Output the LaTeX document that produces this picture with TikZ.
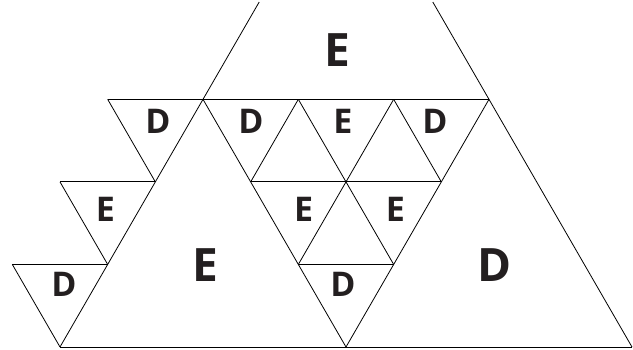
\documentclass[tikz,border=0pt]{standalone}
\usepackage{fontspec}
\setmainfont{Open Sans}
\definecolor{letterInk}{RGB}{35,31,32}
\tikzstyle{edge} = [line width=0.8pt]
\tikzstyle{smallLbl} = [inner sep=0pt, text=letterInk, font=\fontsize{34}{34}\selectfont\bfseries]
\tikzstyle{bigLbl} = [inner sep=0pt, text=letterInk, font=\fontsize{46}{46}\selectfont\bfseries]
\begin{document}
\begin{tikzpicture}[x=1pt,y=-1pt]
	\useasboundingbox (0,0) rectangle (633,349);
	% grid points
	\coordinate (p10) at (60,347);
	\coordinate (p40) at (346,347);
	\coordinate (p70) at (632,347);
	\coordinate (p01) at (12.33,264.44);
	\coordinate (p11) at (107.67,264.44);
	\coordinate (p31) at (298.33,264.44);
	\coordinate (p41) at (393.67,264.44);
	\coordinate (p02) at (60,181.88);
	\coordinate (p12) at (155.33,181.88);
	\coordinate (p22) at (250.67,181.88);
	\coordinate (p42) at (441.33,181.88);
	\coordinate (p03) at (107.67,99.32);
	\coordinate (p13) at (203,99.32);
	\coordinate (p23) at (298.33,99.32);
	\coordinate (p33) at (393.67,99.32);
	\coordinate (p43) at (489,99.32);
	\coordinate (topL) at (259.2,2);
	\coordinate (topR) at (432.8,2);

	% big triangles
	\draw[edge] (p10) -- (p70);
	\draw[edge] (topL) -- (p10);
	\draw[edge] (topR) -- (p70);
	\draw[edge] (p13) -- (p40) -- (p43);
	% middle part
	\draw[edge] (p03) -- (p43);
	\draw[edge] (p22) -- (p42);
	\draw[edge] (p31) -- (p41);
	\draw[edge] (p23) -- (p22);
	\draw[edge] (p23) -- (p41);
	\draw[edge] (p33) -- (p31);
	\draw[edge] (p33) -- (p42);
	% left steps
	\draw[edge] (p03) -- (p12);
	\draw[edge] (p02) -- (p12);
	\draw[edge] (p02) -- (p11);
	\draw[edge] (p01) -- (p11);
	\draw[edge] (p01) -- (p10);

	% letters
	\node[bigLbl] (eTop) at (337,50) {E};
	\node[bigLbl] (eBig) at (205,265) {E};
	\node[bigLbl] (dBig) at (494.5,265) {D};
	\node[smallLbl] (dStep1) at (158,121) {D};
	\node[smallLbl] (eStep2) at (105.5,209) {E};
	\node[smallLbl] (dStep3) at (64,284) {D};
	\node[smallLbl] (dMid1) at (251,121) {D};
	\node[smallLbl] (eMid2) at (343,121) {E};
	\node[smallLbl] (dMid3) at (435,121) {D};
	\node[smallLbl] (eMid4) at (303.7,209) {E};
	\node[smallLbl] (eMid5) at (395.5,209) {E};
	\node[smallLbl] (dMid6) at (343,284) {D};
\end{tikzpicture}
\end{document}
